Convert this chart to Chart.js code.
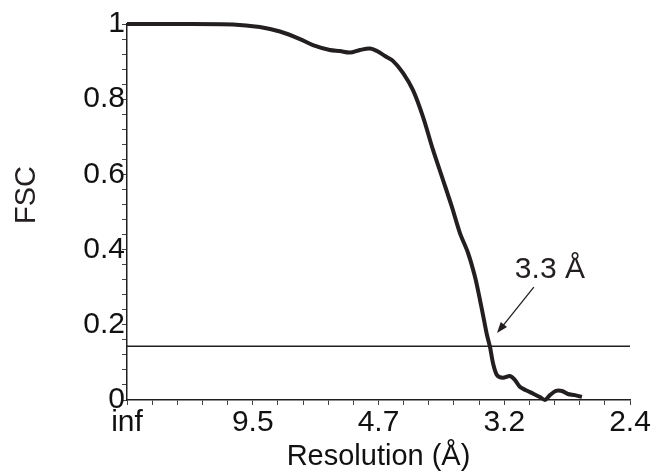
<!DOCTYPE html>
<html lang="en">
<head>
<meta charset="UTF-8" />
<title>FSC curve</title>
<script src="https://cdn.jsdelivr.net/npm/chart.js"></script>
<style>
  body { margin: 0; background: #fff; }
  #wrap { width: 661px; height: 475px; }
</style>
</head>
<body>
<div id="wrap"><canvas id="fsc"></canvas></div>
<script>
  // spatial frequency (1/Å) and FSC
  const spatialFreq = [0, 0.0439, 0.0878, 0.110, 0.1267, 0.1433, 0.154, 0.168, 0.1764, 0.1847,
    0.193, 0.2013, 0.2071, 0.2137, 0.2203, 0.2286, 0.2369, 0.2452, 0.2535, 0.2618,
    0.2692, 0.2758, 0.2825, 0.2883, 0.2924, 0.2957, 0.2982, 0.3007, 0.3032, 0.3065,
    0.3114, 0.3172, 0.3214, 0.3255, 0.3338, 0.342, 0.3462, 0.3503, 0.3553, 0.3603,
    0.3652, 0.371, 0.3768];
  const fscValues = [1.0, 1.0, 0.999, 0.992, 0.980, 0.960, 0.944, 0.931, 0.928, 0.924,
    0.931, 0.935, 0.928, 0.915, 0.902, 0.870, 0.824, 0.753, 0.665, 0.585,
    0.513, 0.444, 0.391, 0.327, 0.266, 0.213, 0.173, 0.141, 0.098, 0.066,
    0.059, 0.064, 0.053, 0.035, 0.021, 0.008, 0.0, 0.013, 0.024, 0.024,
    0.016, 0.013, 0.008];

  const xTickLabels = ['inf', '9.5', '4.7', '3.2', '2.4'];
  const yTickLabels = ['0', '0.2', '0.4', '0.6', '0.8', '1'];
  const xMax = 1 / 2.4;
  const threshold = 0.143;
  const cutoffText = '3.3 Å';
  const cutoffLabelAt = { x: 0.3503, y: 0.346 };
  const arrowFrom = { x: 0.337, y: 0.30 };
  const arrowTo = { x: 0.3065, y: 0.178 };

  const ink = '#231f20';
  const font = "'Liberation Sans', Arial, sans-serif";

  const annotate = {
    id: 'annotate',
    afterDatasetsDraw(chart) {
      const ctx = chart.ctx;
      const xs = chart.scales.x, ys = chart.scales.y;
      const area = chart.chartArea;
      ctx.save();
      ctx.fillStyle = ink;
      ctx.strokeStyle = ink;
      ctx.font = '30px ' + font;
      ctx.textAlign = 'center';
      ctx.textBaseline = 'middle';
      ctx.fillText(cutoffText, xs.getPixelForValue(cutoffLabelAt.x), ys.getPixelForValue(cutoffLabelAt.y));

      // arrow
      const x1 = xs.getPixelForValue(arrowFrom.x), y1 = ys.getPixelForValue(arrowFrom.y);
      const x2 = xs.getPixelForValue(arrowTo.x), y2 = ys.getPixelForValue(arrowTo.y);
      const a = Math.atan2(y2 - y1, x2 - x1);
      ctx.lineWidth = 1.3;
      ctx.beginPath();
      ctx.moveTo(x1, y1);
      ctx.lineTo(x2 - 8 * Math.cos(a), y2 - 8 * Math.sin(a));
      ctx.stroke();
      ctx.beginPath();
      ctx.moveTo(x2, y2);
      ctx.lineTo(x2 - 11 * Math.cos(a) + 4 * Math.sin(a), y2 - 11 * Math.sin(a) - 4 * Math.cos(a));
      ctx.lineTo(x2 - 11 * Math.cos(a) - 4 * Math.sin(a), y2 - 11 * Math.sin(a) + 4 * Math.cos(a));
      ctx.closePath();
      ctx.fill();

      // y axis title
      ctx.font = '29px ' + font;
      ctx.translate(27, area.top + (area.bottom - area.top) * 0.455);
      ctx.rotate(-Math.PI / 2);
      ctx.fillText('FSC', 0, 0);
      ctx.restore();
    }
  };

  new Chart(document.getElementById('fsc'), {
    type: 'line',
    data: {
      datasets: [{
        data: spatialFreq.map((f, i) => ({ x: f, y: fscValues[i] })),
        borderColor: ink,
        borderWidth: 4,
        pointRadius: 0,
        tension: 0.3,
        clip: false
      }, {
        data: [{ x: 0, y: threshold }, { x: xMax, y: threshold }],
        borderColor: ink,
        borderWidth: 1.5,
        pointRadius: 0
      }]
    },
    options: {
      responsive: true,
      maintainAspectRatio: false,
      animation: false,
      layout: { padding: { top: 24, right: 31, left: 0, bottom: 0 } },
      plugins: { legend: { display: false }, tooltip: { enabled: false } },
      scales: {
        x: {
          type: 'linear',
          min: 0,
          max: xMax,
          afterBuildTicks: s => { s.ticks = Array.from({ length: 21 }, (_, i) => ({ value: xMax * i / 20 })); },
          afterFit: s => { s.height = 75; },
          border: { color: ink, width: 1.5 },
          grid: { drawOnChartArea: false, tickLength: 5, color: '#444', lineWidth: 1 },
          ticks: {
            autoSkip: false,
            maxRotation: 0,
            padding: 0,
            color: '#111',
            font: { family: font, size: 30 },
            callback: (v, i) => (i % 5 === 0 ? xTickLabels[i / 5] : '')
          },
          title: {
            display: true,
            text: 'Resolution (Å)',
            color: '#111',
            font: { family: font, size: 29 },
            padding: { top: 0, bottom: 1 }
          }
        },
        y: {
          min: 0,
          max: 1,
          afterBuildTicks: s => { s.ticks = Array.from({ length: 26 }, (_, i) => ({ value: i * 0.04 })); },
          afterFit: s => { s.width = 127; },
          border: { color: ink, width: 1.5 },
          grid: { drawOnChartArea: false, tickLength: 5, color: '#444', lineWidth: 1 },
          ticks: {
            autoSkip: false,
            padding: -3,
            color: '#111',
            font: { family: font, size: 30 },
            callback: (v, i) => (i % 5 === 0 ? yTickLabels[i / 5] : '')
          }
        }
      }
    },
    plugins: [annotate]
  });
</script>
</body>
</html>
